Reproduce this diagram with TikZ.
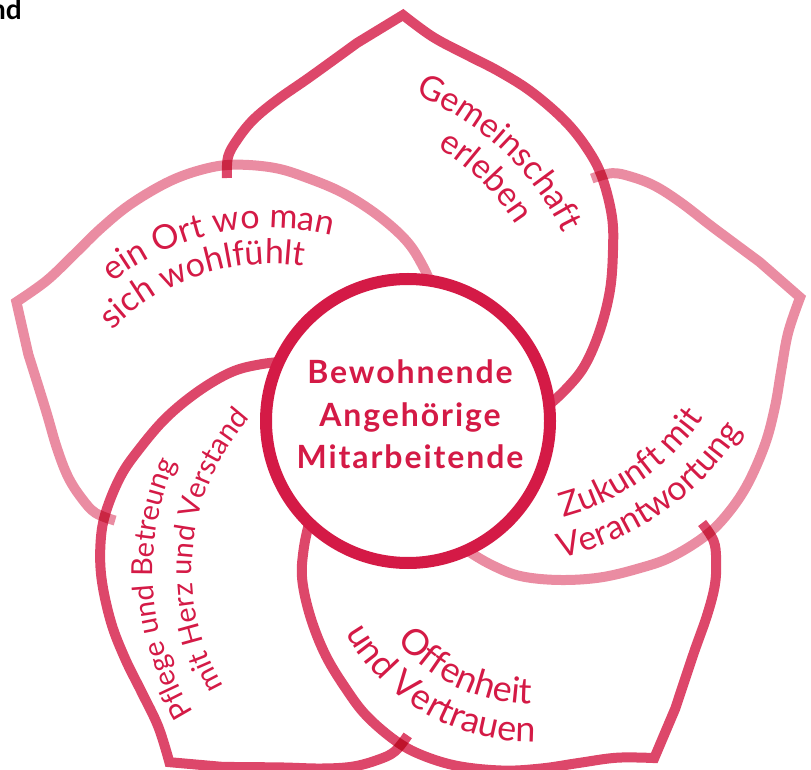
\documentclass[tikz,border=0pt]{standalone}
\usepackage{fontspec}
\setmainfont{Lato}
\usetikzlibrary{decorations.text}
\definecolor{crim}{HTML}{D41A46}
\definecolor{pdark}{HTML}{DD476A}
\definecolor{plight}{HTML}{EA8CA2}
\tikzset{
  petal/.style={line width=10pt, line join=miter, miter limit=20, blend mode=multiply},
  ctrtext/.style={anchor=base, inner sep=0pt, text=crim, font=\bfseries\fontsize{32}{32}\selectfont\addfontfeatures{LetterSpace=6}},
}
% #1 cx, #2 cy (image), #3 r, #4 start, #5 end, #6 size, #7 text
\newcommand\ArcTxt[7]{%
  \path[decorate,decoration={text along path,text align=center,
    text={|\color{crim}\fontsize{#6}{#6}\selectfont|#7}}]
    ([shift={(#4:#3)}]#1,{769-#2}) arc[start angle=#4,end angle=#5,radius=#3];}
\begin{document}
\begin{tikzpicture}[x=1pt,y=1pt]
\useasboundingbox (0,0) rectangle (811,769);
% petals
\foreach \ang/\col in {0/pdark,71.5/plight,143.6/pdark,215.7/pdark,287.5/plight}{
  \begin{scope}[shift={(409,342)},rotate=\ang]
    \draw[petal,\col] plot[smooth,tension=0.6] coordinates {(-182,249) (-181,270) (-172,287) (-156,307) (-132,327) (-99,350) (-52,384)}
      -- plot[smooth,tension=0.6] coordinates {(-6,412) (24,390) (58,372) (91,355) (124,334) (158,304) (181,274) (194,247) (203,210) (204,177) (201,137) (191,97) (176,62) (158,39) (136,19) (111,2)};
  \end{scope}
}
% central circle
\node[circle, draw=crim, line width=12pt, fill=white, minimum size=284pt, inner sep=0pt] (hub) at (408,348) {};
\node[ctrtext] (l1) at (410,{769-384}) {Bewohnende};
\node[ctrtext] (l2) at (410,{769-427}) {Angehörige};
\node[ctrtext] (l3) at (410,{769-469}) {Mitarbeitende};
% petal texts
\ArcTxt{270}{484}{256}{142}{62}{34}{ein Ort wo man}
\ArcTxt{270}{484}{220}{150}{67}{34}{sich wohlfühlt}
\ArcTxt{308}{358}{284}{87}{7}{34}{Gemeinschaft}
\ArcTxt{308}{358}{247}{86}{5}{34}{erleben}
\ArcTxt{421}{571}{268}{230}{138}{29}{Pflege und Betreung}
\ArcTxt{421}{571}{229}{220}{128.6}{29}{mit Herz und Verstand}
\ArcTxt{532}{527}{177}{-160}{-70}{36}{Offenheit}
\ArcTxt{532}{527}{215}{-165}{-74.4}{36}{und Vertrauen}
\ArcTxt{501}{280}{245}{-95}{-14.6}{34}{Zukunft mit}
\ArcTxt{501}{280}{284}{-95}{-15}{34}{Verantwortung}
% clipped heading fragment
\node[anchor=base east, inner sep=0pt, font=\bfseries\fontsize{28}{28}\selectfont] (hd) at (22,749) {nd};
\end{tikzpicture}
\end{document}
